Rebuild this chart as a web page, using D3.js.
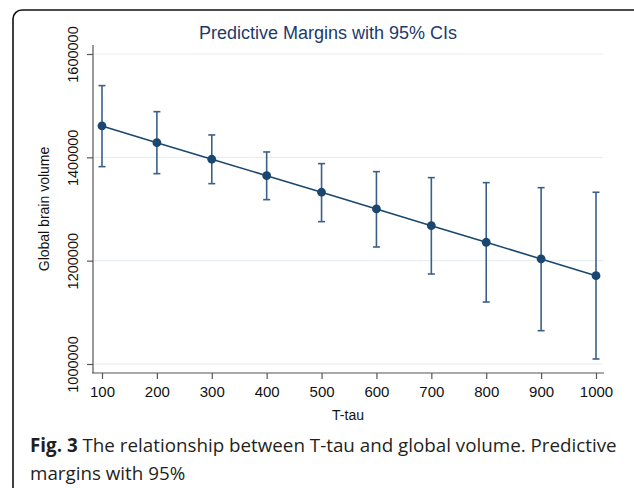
<!DOCTYPE html>
<html>
<head>
<script src="https://cdn.jsdelivr.net/npm/d3@7"></script>
<style type="text/css">
  body { margin: 0; background: #fff; }
  svg { display: block; }
</style>
</head>
<body>
<script>
  // data
  var tTau = [100, 200, 300, 400, 500, 600, 700, 800, 900, 1000];
  var margin = [1460800, 1428400, 1396300, 1364500, 1332400, 1300100, 1267700, 1235600, 1203300, 1171000];
  var ciLow = [1382000, 1368400, 1349100, 1318100, 1275500, 1226500, 1174200, 1120000, 1064500, 1009700];
  var ciHigh = [1538800, 1488400, 1443300, 1410400, 1387800, 1372300, 1360700, 1351000, 1341300, 1332400];
  var yTicks = [1000000, 1200000, 1400000, 1600000];

  var navy = "#1a476f";
  var axisFont = "'Liberation Sans', Arial, sans-serif";

  var canvas = d3.select("body").append("svg")
    .attr("width", 634)
    .attr("height", 488);

  // outer frame
  canvas.append("rect")
    .attr("x", 13).attr("y", 10)
    .attr("width", 640).attr("height", 500)
    .attr("rx", 9).attr("ry", 9)
    .attr("fill", "none")
    .attr("stroke", "#111")
    .attr("stroke-width", 1.6);

  var x = d3.scaleLinear().domain([100, 1000]).range([102, 596]);
  var y = d3.scaleLinear().domain([1000000, 1600000]).range([364, 54]);

  // gridlines
  canvas.append("g").selectAll("line")
    .data(yTicks)
    .enter().append("line")
    .attr("x1", 93).attr("x2", 603)
    .attr("y1", function (d) { return y(d); })
    .attr("y2", function (d) { return y(d); })
    .attr("stroke", "#e6eef1")
    .attr("stroke-width", 1.2);

  // y axis
  var yAxis = canvas.append("g")
    .attr("transform", "translate(93,0)")
    .call(d3.axisLeft(y).tickValues(yTicks).tickSize(6).tickSizeOuter(0).tickFormat(d3.format("d")));
  yAxis.select(".domain").attr("d", "M0,45V373");
  yAxis.selectAll("text")
    .attr("transform", "rotate(-90)")
    .attr("x", 0).attr("y", -15)
    .attr("dy", 0)
    .attr("text-anchor", "middle")
    .style("font-family", axisFont)
    .style("font-size", "14.5px")
    .attr("fill", "#111");

  // x axis
  var xAxis = canvas.append("g")
    .attr("transform", "translate(0,373)")
    .call(d3.axisBottom(x).tickValues(tTau).tickSize(6).tickSizeOuter(0).tickFormat(d3.format("d")));
  xAxis.select(".domain").attr("d", "M92,0H604");
  xAxis.selectAll("text")
    .attr("y", 13)
    .style("font-family", axisFont)
    .style("font-size", "15px")
    .attr("fill", "#111");

  canvas.selectAll(".domain, .tick line").attr("stroke", "#555").attr("stroke-width", 1.2);

  // axis titles
  canvas.append("text")
    .attr("transform", "translate(49,209) rotate(-90)")
    .attr("text-anchor", "middle")
    .style("font-family", axisFont)
    .style("font-size", "14px")
    .attr("fill", "#111")
    .text("Global brain volume");

  canvas.append("text")
    .attr("x", 348).attr("y", 420)
    .attr("text-anchor", "middle")
    .style("font-family", axisFont)
    .style("font-size", "14px")
    .attr("fill", "#111")
    .text("T-tau");

  canvas.append("text")
    .attr("x", 328).attr("y", 39)
    .attr("text-anchor", "middle")
    .style("font-family", axisFont)
    .style("font-size", "18px")
    .attr("fill", "#1e3a6b")
    .text("Predictive Margins with 95% CIs");

  // confidence intervals
  var bars = canvas.append("g")
    .attr("stroke", "#3a6089")
    .attr("stroke-width", 1.6);
  tTau.forEach(function (t, i) {
    bars.append("line")
      .attr("x1", x(t)).attr("x2", x(t))
      .attr("y1", y(ciLow[i])).attr("y2", y(ciHigh[i]));
    bars.append("line")
      .attr("x1", x(t) - 3.5).attr("x2", x(t) + 3.5)
      .attr("y1", y(ciLow[i])).attr("y2", y(ciLow[i]));
    bars.append("line")
      .attr("x1", x(t) - 3.5).attr("x2", x(t) + 3.5)
      .attr("y1", y(ciHigh[i])).attr("y2", y(ciHigh[i]));
  });

  // margins line and markers
  var line = d3.line()
    .x(function (d, i) { return x(tTau[i]); })
    .y(function (d) { return y(d); });

  canvas.append("path")
    .datum(margin)
    .attr("d", line)
    .attr("fill", "none")
    .attr("stroke", navy)
    .attr("stroke-width", 1.6);

  canvas.append("g").selectAll("circle")
    .data(margin)
    .enter().append("circle")
    .attr("cx", function (d, i) { return x(tTau[i]); })
    .attr("cy", function (d) { return y(d); })
    .attr("r", 4.4)
    .attr("fill", navy);

  // caption
  var cap = canvas.append("text")
    .attr("x", 30).attr("y", 452)
    .style("font-family", "'Open Sans', sans-serif")
    .style("font-size", "18.8px")
    .attr("fill", "#231f20");
  cap.append("tspan").attr("font-weight", "bold").text("Fig. 3");
  cap.append("tspan").text(" The relationship between T-tau and global volume. Predictive");
  canvas.append("text")
    .attr("x", 30).attr("y", 480)
    .style("font-family", "'Open Sans', sans-serif")
    .style("font-size", "18.8px")
    .attr("fill", "#231f20")
    .text("margins with 95%");
</script>
</body>
</html>
